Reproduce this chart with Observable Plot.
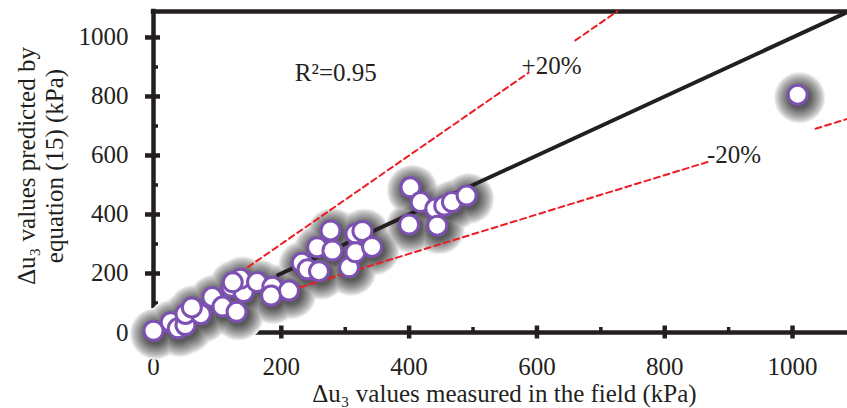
<!DOCTYPE html>
<html>
<head>
<meta charset="utf-8">
<script src="https://cdn.jsdelivr.net/npm/d3@7"></script>
<script src="https://cdn.jsdelivr.net/npm/@observablehq/plot@0.6"></script>
<style>
  html, body { margin: 0; padding: 0; background: #fff; }
  #chart svg { display: block; }
</style>
</head>
<body>
<div id="chart"></div>
<script>
// Measured (field) vs predicted (equation 15) Δu3, kPa
const measured  = [0, 27, 38, 50, 50, 74, 60, 92, 108, 130, 122, 141, 136, 124, 162, 186, 184, 212,
                   232, 241, 259, 256, 277, 280, 306, 316, 327, 316, 342,
                   400, 402, 418, 441, 455, 467, 490, 444, 1008];
const predicted = [6, 35, 14, 25, 63, 62, 85, 120, 88, 70, 155, 137, 182, 170, 171, 155, 125, 142,
                   236, 214, 208, 289, 346, 278, 221, 335, 344, 272, 290,
                   366, 492, 442, 420, 430, 442, 464, 362, 806];

const xTicks = [0, 200, 400, 600, 800, 1000];
const xMinor = [100, 300, 500, 700, 900];
const yTicks = [0, 200, 400, 600, 800, 1000];
const yMinor = [100, 300, 500, 700, 900];
const xMax = 1086, yMax = 1088;

// reference lines: 1:1 (visible part beyond the low cluster), +20% (y = 1.5x), -20% (y = x/1.5)
const oneToOne = [195, xMax];
const upperFactor = 1.5, lowerFactor = 1 / 1.5;
const upperSegments = [[135, 587], [660, 726]];
const lowerSegments = [[215, 869], [1036, 1086]];

const labels = [
  {x: 221, y: 854, text: "R²=0.95"},
  {x: 576, y: 876, text: "+20%"},
  {x: 866, y: 574, text: "-20%"}
];
const xTitle = "Δu₃ values measured in the field (kPa)";
const yTitle = "Δu₃ values predicted by\nequation (15) (kPa)";

const ink = "#231f20";
const font = "'Liberation Serif', 'Times New Roman', serif";
const points = measured.map((m, i) => ({m, p: predicted[i]}));
const segs = (list, f) => list.flatMap((s, k) => s.map(v => ({x: v, y: v * f, k})));
const fmt = d => String(d);

// soft glow under the points: opaque gray discs, light and wide first, dark and tight last
const glowOuter = 26, glowInner = 10.5, glowSteps = 18;
const shadowMarks = d3.range(glowSteps).map(i => {
  const t = i / (glowSteps - 1);
  const r = glowOuter - (glowOuter - glowInner) * t;
  const g = Math.round(250 - 160 * Math.pow(t, 0.75));
  return Plot.dot(points, {x: "m", y: "p", r, dx: 2, dy: 3, fill: `rgb(${g},${g},${g})`, stroke: "none"});
});

const chart = Plot.plot({
  width: 847,
  height: 408,
  marginLeft: 153,
  marginRight: 0,
  marginTop: 11,
  marginBottom: 76,
  x: {domain: [0, xMax]},
  y: {domain: [0, yMax]},
  style: {fontFamily: font, fontSize: "25px", color: ink, background: "white"},
  marks: [
    // axes lines / frame
    Plot.ruleX([0], {stroke: ink, strokeWidth: 4.5, strokeLinecap: "square"}),
    Plot.ruleY([0], {stroke: ink, strokeWidth: 4.5}),
    Plot.ruleY([yMax], {stroke: ink, strokeWidth: 4.5, strokeLinecap: "square"}),
    // ticks
    Plot.axisX({ticks: xTicks, tickSize: 13, dy: -6.5, fill: "none", label: null, stroke: ink, strokeWidth: 4.5}),
    Plot.axisX({ticks: xMinor, tickSize: 5, dy: -5, fill: "none", label: null, stroke: ink, strokeWidth: 3.5}),
    Plot.axisY({ticks: yTicks, tickSize: 15, dx: 7, fill: "none", label: null, stroke: ink, strokeWidth: 4.5}),
    Plot.axisY({ticks: yMinor, tickSize: 5, dx: 5, fill: "none", label: null, stroke: ink, strokeWidth: 3.5}),
    // tick labels
    Plot.axisX({ticks: xTicks, tickFormat: fmt, tickSize: 0, tickPadding: 25, label: null, fill: ink, fontSize: 25, fontFamily: font}),
    Plot.axisY({ticks: yTicks, tickFormat: fmt, tickSize: 0, tickPadding: 25, label: null, fill: ink, fontSize: 25, fontFamily: font}),
    // axis titles
    Plot.text([xTitle], {frameAnchor: "bottom", textAnchor: "middle", lineAnchor: "bottom", dy: 69, dx: 4, fill: ink, fontSize: 25, fontFamily: font}),
    Plot.text([yTitle], {frameAnchor: "left", textAnchor: "middle", rotate: -90, lineAnchor: "top", lineHeight: 1.1, dx: -138, dy: -6, fill: ink, fontSize: 25, fontFamily: font}),
    // annotations
    Plot.text(labels, {x: "x", y: "y", text: "text", textAnchor: "start", lineAnchor: "bottom", fill: ink, fontSize: 25, fontFamily: font}),
    // shadows
    ...shadowMarks,
    // red dashed ±20% lines
    Plot.line(segs(upperSegments, upperFactor), {x: "x", y: "y", z: "k", stroke: "#ee1c25", strokeWidth: 2, strokeDasharray: "6,4"}),
    Plot.line(segs(lowerSegments, lowerFactor), {x: "x", y: "y", z: "k", stroke: "#ee1c25", strokeWidth: 2, strokeDasharray: "6,4"}),
    // 1:1 line
    Plot.line(oneToOne, {x: d => d, y: d => d, stroke: ink, strokeWidth: 4}),
    // data points
    Plot.dot(points, {x: "m", y: "p", r: 9.5, fill: "white", stroke: "#7d51b2", strokeWidth: 3})
  ]
});

document.getElementById("chart").appendChild(chart);
</script>
</body>
</html>
